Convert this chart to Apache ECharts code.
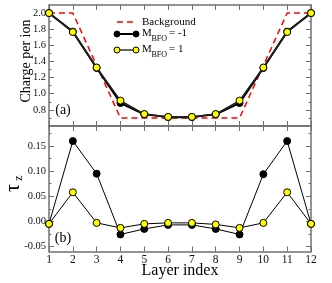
<!DOCTYPE html>
<html>
<head>
<meta charset="utf-8">
<script src="https://cdn.jsdelivr.net/npm/echarts@6/dist/echarts.min.js"></script>
<style>html,body{margin:0;padding:0;background:#fff}#c{width:332px;height:283px}</style>
</head>
<body>
<div id="c"></div>
<script>
// ---- data ----
const layers = [1,2,3,4,5,6,7,8,9,10,11,12];
const backgroundX = [1,2,4,9,11,12];
const backgroundY = [2.0,2.0,0.7,0.7,2.0,2.0];
const chargeMinus1 = [2.0,1.77,1.32,0.885,0.745,0.71,0.71,0.745,0.885,1.32,1.77,2.0];
const chargePlus1  = [2.0,1.765,1.325,0.915,0.748,0.713,0.713,0.748,0.915,1.325,1.765,2.0];
const tauMinus1 = [-0.005,0.16,0.095,-0.026,-0.015,-0.007,-0.007,-0.015,-0.026,0.094,0.16,-0.005];
const tauPlus1  = [-0.005,0.058,-0.003,-0.013,-0.005,-0.003,-0.003,-0.006,-0.013,-0.003,0.058,-0.005];
const chargeMajor = [0.8,1.0,1.2,1.4,1.6,1.8,2.0];
const chargeMinor = [0.7,0.9,1.1,1.3,1.5,1.7,1.9];
const tauMajor = [-0.05,0.0,0.05,0.10,0.15];
const tauMinor = [-0.025,0.025,0.075,0.125,0.175];

const FONT = '"Liberation Serif","DejaVu Serif",serif';
const AX = '#707070';
const chart = echarts.init(document.getElementById('c'), null, {renderer:'canvas'});
const pairs = (xs, ys) => xs.map((x,i)=>[x, ys[i]]);

function xAx(grid, pos, labels){
  return {type:'value', gridIndex:grid, position:pos, min:1, max:12, interval:1,
    axisLine:{show:true, onZero:false, lineStyle:{color:AX, width:1.5}},
    axisTick:{show:true, inside:true, length:5, lineStyle:{color:AX, width:1}},
    axisLabel:{show:labels, margin:2, fontFamily:FONT, fontSize:11.5, color:'#111'},
    splitLine:{show:false}};
}
function yAx(grid, pos, min, max, vals, len, labels, line, fmt){
  return {type:'value', gridIndex:grid, position:pos, min:min, max:max,
    axisLine:{show:line, onZero:false, lineStyle:{color:AX, width:1.5}},
    axisTick:{show:true, inside:true, length:len, customValues:vals, lineStyle:{color:AX, width:1}},
    axisLabel:{show:labels, customValues:vals, margin:3, fontFamily:FONT, fontSize:10.5, color:'#111',
      formatter:fmt},
    splitLine:{show:false}};
}
const f1 = v => v.toFixed(1);
const f2 = v => (Math.abs(v)<1e-9 ? 0 : v).toFixed(2);

const option = {
  animation:false,
  backgroundColor:'#fff',
  grid:[
    {left:49, top:5, width:262, height:121},
    {left:49, top:126, width:262, height:125.5}
  ],
  xAxis:[
    xAx(0,'bottom',false), xAx(0,'top',false),
    xAx(1,'bottom',true), xAx(1,'top',false)
  ],
  yAxis:[
    yAx(0,'left',0.6,2.1,chargeMajor,5,true,true,f1),
    yAx(0,'left',0.6,2.1,chargeMinor,2.5,false,false,f1),
    yAx(0,'right',0.6,2.1,chargeMajor,5,false,true,f1),
    yAx(0,'right',0.6,2.1,chargeMinor,2.5,false,false,f1),
    yAx(1,'left',-0.06,0.19,tauMajor,5,true,true,f2),
    yAx(1,'left',-0.06,0.19,tauMinor,2.5,false,false,f2),
    yAx(1,'right',-0.06,0.19,tauMajor,5,false,true,f2),
    yAx(1,'right',-0.06,0.19,tauMinor,2.5,false,false,f2)
  ],
  series:[
    {type:'line', xAxisIndex:0, yAxisIndex:0, data:pairs(backgroundX, backgroundY), showSymbol:false, symbol:'none',
      lineStyle:{color:'#ff0000', width:1.5, type:[6,4]}, z:2},
    {type:'line', xAxisIndex:0, yAxisIndex:0, data:pairs(layers, chargeMinus1), symbol:'circle', symbolSize:7,
      itemStyle:{color:'#000', borderColor:'#000', borderWidth:1}, lineStyle:{color:'#000', width:2}, z:3},
    {type:'line', xAxisIndex:0, yAxisIndex:0, data:pairs(layers, chargePlus1), symbol:'circle', symbolSize:7,
      itemStyle:{color:'#ffff00', borderColor:'#000', borderWidth:1}, lineStyle:{color:'#222', width:1.5}, z:4},
    {type:'line', xAxisIndex:2, yAxisIndex:4, data:pairs(layers, tauMinus1), symbol:'circle', symbolSize:7,
      itemStyle:{color:'#000', borderColor:'#000', borderWidth:1}, lineStyle:{color:'#000', width:1}, z:3},
    {type:'line', xAxisIndex:2, yAxisIndex:4, data:pairs(layers, tauPlus1), symbol:'circle', symbolSize:7,
      itemStyle:{color:'#ffff00', borderColor:'#000', borderWidth:1}, lineStyle:{color:'#000', width:1}, z:4}
  ],
  graphic:[
    {type:'text', x:26, y:61, rotation:Math.PI/2, style:{text:'Charge per ion', font:'14px '+FONT, fill:'#000', textAlign:'center', textVerticalAlign:'middle'}},
    {type:'text', x:14, y:188, rotation:Math.PI/2, style:{text:'τ', font:'20px '+FONT, fill:'#000', textAlign:'center', textVerticalAlign:'middle'}},
    {type:'text', x:19, y:178, rotation:Math.PI/2, style:{text:'z', font:'12px '+FONT, fill:'#000', textAlign:'center', textVerticalAlign:'middle'}},
    {type:'text', x:63, y:110, style:{text:'(a)', font:'14px '+FONT, fill:'#000', textAlign:'center', textVerticalAlign:'middle'}},
    {type:'text', x:63, y:238, style:{text:'(b)', font:'14px '+FONT, fill:'#000', textAlign:'center', textVerticalAlign:'middle'}},
    {type:'text', x:180, y:271, style:{text:'Layer index', font:'16px '+FONT, fill:'#000', textAlign:'center', textVerticalAlign:'middle'}},
    // legend
    {type:'line', shape:{x1:117, y1:22, x2:136, y2:22}, style:{stroke:'#ff0000', lineWidth:1.5, lineDash:[6,4]}},
    {type:'text', x:142, y:22, style:{text:'Background', font:'11px '+FONT, fill:'#000', textVerticalAlign:'middle'}},
    {type:'line', shape:{x1:117, y1:34, x2:136, y2:34}, style:{stroke:'#000', lineWidth:2}},
    {type:'circle', shape:{cx:117, cy:34, r:3}, style:{fill:'#000', stroke:'#000'}},
    {type:'circle', shape:{cx:136, cy:34, r:3}, style:{fill:'#000', stroke:'#000'}},
    {type:'text', x:142, y:33, style:{text:'M', font:'11px '+FONT, fill:'#000', textVerticalAlign:'middle'}},
    {type:'text', x:151.5, y:39, style:{text:'BFO', font:'8px '+FONT, fill:'#000', textVerticalAlign:'middle'}},
    {type:'text', x:169, y:33, style:{text:'= -1', font:'11px '+FONT, fill:'#000', textVerticalAlign:'middle'}},
    {type:'line', shape:{x1:117, y1:50, x2:136, y2:50}, style:{stroke:'#333', lineWidth:1.5}},
    {type:'circle', shape:{cx:117, cy:50, r:3}, style:{fill:'#ffff00', stroke:'#000', lineWidth:1}},
    {type:'circle', shape:{cx:136, cy:50, r:3}, style:{fill:'#ffff00', stroke:'#000', lineWidth:1}},
    {type:'text', x:142, y:49.5, style:{text:'M', font:'11px '+FONT, fill:'#000', textVerticalAlign:'middle'}},
    {type:'text', x:151.5, y:55, style:{text:'BFO', font:'8px '+FONT, fill:'#000', textVerticalAlign:'middle'}},
    {type:'text', x:169, y:49.5, style:{text:'= 1', font:'11px '+FONT, fill:'#000', textVerticalAlign:'middle'}}
  ]
};
chart.setOption(option);
</script>
</body>
</html>
